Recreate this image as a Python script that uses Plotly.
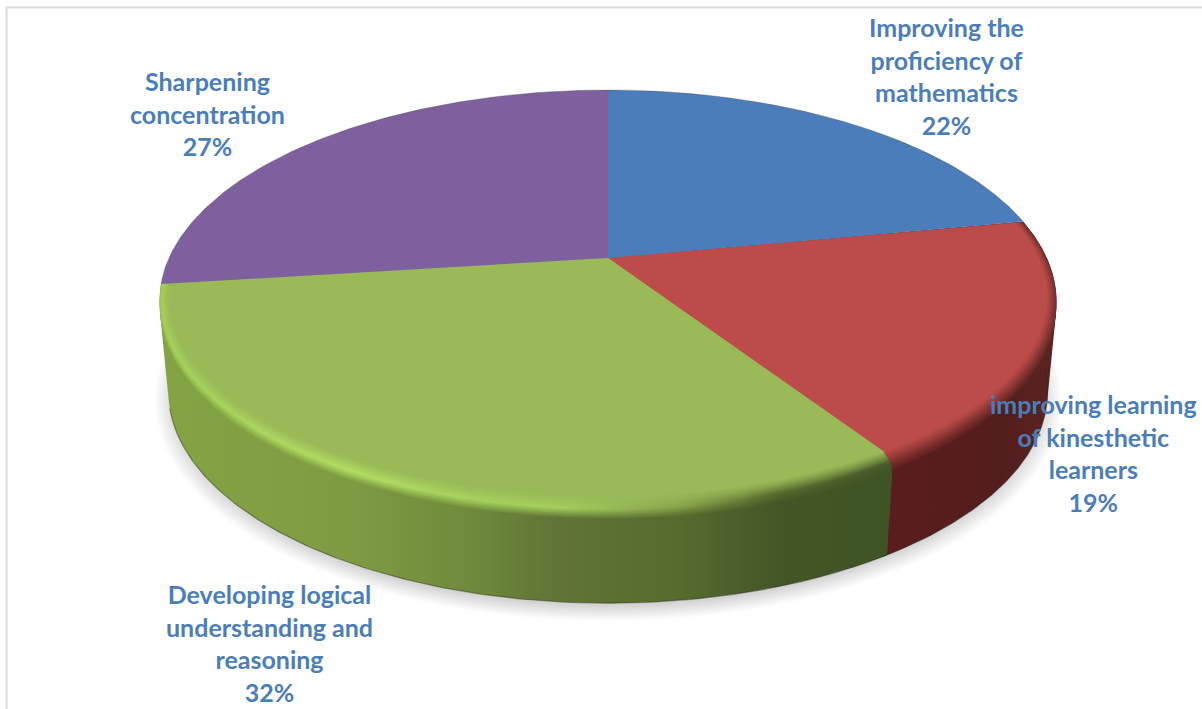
import numpy as np
import plotly.graph_objects as go

# Survey shares, clockwise from twelve o'clock
CATEGORIES = [
    "Improving the<br>proficiency of<br>mathematics",
    "improving learning<br>of kinesthetic<br>learners",
    "Developing logical<br>understanding and<br>reasoning",
    "Sharpening<br>concentration",
]
VALUES = [22, 19, 32, 27]

TOP_COLORS = ["#4b7dba", "#bc4c49", "#99ba57", "#7f609e"]
LABEL_COLOR = "#4a7ebb"
LABEL_ANCHORS = [(946, 76), (1093, 453), (269, 643), (207, 113)]

# Perspective model of the tilted disc, in pixels
CX, CY = 608.0, 258.0
RX, RY = 439.0, 202.6
PERSP = 0.206
DEPTH = 90.0
TAPER = 0.02
XMIN, XMAX = 155.0, 1060.0


def project(theta, sx=1.0, sy=1.0, drop=0.0):
    """Map disc angle (clockwise from the back) to screen pixels."""
    X = np.sin(theta) * sx
    Y = np.cos(theta) * sy
    s = 1.0 / (1.0 + PERSP * Y)
    return (CX + RX * X * s * (1 - TAPER * drop / DEPTH),
            CY - RY * Y * s + drop)


def hex_rgb(c):
    return np.array([int(c[i:i + 2], 16) for i in (1, 3, 5)], float)


def mix(a, b, t):
    a, b = hex_rgb(a), hex_rgb(b)
    v = a + (b - a) * t
    return "#%02x%02x%02x" % tuple(int(round(p)) for p in v)


def gradient(xs, colors):
    # Colorscales must span 0..1, so the end colours are held out to the range limits
    scale = [[0.0, colors[0]]]
    scale += [[(x - XMIN) / (XMAX - XMIN), c] for x, c in zip(xs, colors)]
    scale += [[1.0, colors[-1]]]
    return dict(type="horizontal", colorscale=scale, start=XMIN, stop=XMAX)


def polygon(x, y, fillgrad=None, fillcolor=None):
    kw = dict(fillgradient=fillgrad) if fillgrad else dict(fillcolor=fillcolor)
    return go.Scatter(x=list(x), y=list(y), mode="lines", fill="toself",
                      line=dict(width=0), hoverinfo="skip", showlegend=False, **kw)


def wedge(t0, t1, sx=1.0, sy=1.0, drop=0.0):
    th = np.linspace(t0, t1, 160)
    ax, ay = project(th, sx, sy, drop)
    return np.r_[CX, ax, CX], np.r_[CY, ay, CY]


def convex_hull(x, y):
    pts = sorted(set(zip(x.tolist(), y.tolist())))

    def half(points):
        out = []
        for p in points:
            while len(out) >= 2 and ((out[-1][0] - out[-2][0]) * (p[1] - out[-2][1])
                                     - (out[-1][1] - out[-2][1]) * (p[0] - out[-2][0])) <= 0:
                out.pop()
            out.append(p)
        return out[:-1]

    ring = half(pts) + half(pts[::-1])
    ring.append(ring[0])
    return [p[0] for p in ring], [p[1] for p in ring]


fractions = np.cumsum([0] + VALUES) / sum(VALUES)
angles = 2 * np.pi * fractions

fig = go.Figure()

# Soft shadow cast under the disc
full = np.linspace(0, 2 * np.pi, 361)
for grow in np.linspace(1.036, 0.99, 11):
    sx, sy = project(full, grow * 0.995, grow, DEPTH + 6)
    fig.add_trace(polygon(sx, sy, fillcolor="rgba(0,0,0,0.017)"))

# Side walls of the slices that face the viewer; each is the hull swept from rim to base
WALL_STOPS = {
    1: ([893, 1000, 1055], ["#5a1c1c", "#521e1c", "#5a2422"]),
    2: ([160, 350, 470, 560, 680, 780, 895],
       ["#84a444", "#7f9b42", "#6f8a3c", "#5f7436", "#556c2e", "#435626", "#3e5424"]),
}
for i, (xs, cols) in WALL_STOPS.items():
    th = np.linspace(angles[i], angles[i + 1] + (0.01 if i == 1 else 0), 200)
    tx, ty = project(th)
    bx, by = project(th, drop=DEPTH)
    hx, hy = convex_hull(np.r_[tx, bx], np.r_[ty, by])
    fig.add_trace(polygon(hx, hy, gradient(xs, cols)))

# Dark lower edge of the wall, stopping where the base curves out of sight on the left
th = np.linspace(angles[1] + 0.3, angles[3] - 0.16, 300)
bx, by = project(th, drop=DEPTH)
fig.add_trace(go.Scatter(x=bx, y=by, mode="lines", hoverinfo="skip", showlegend=False,
                         line=dict(color="rgba(35,45,20,0.45)", width=1.2)))

# Front slices: nested wedges fade from the wall into the top face across the rounded edge.
# Outer steps of both slices go first so each inner step tidies up the shared radius.
HIGHLIGHT = {2: ["#a4cf5a", "#b2de64", "#a8d35e", "#a4ce5c", "#88a44b", "#55692c", "#46592a"]}
STEPS = 12
for k in range(STEPS, -1, -1):
    t = k / STEPS
    for i in (1, 2):
        xs, wall = WALL_STOPS[i]
        top = TOP_COLORS[i]
        peak = HIGHLIGHT.get(i, [mix(top, c, 0.6) for c in wall])
        if t > 0.6:
            cols = [mix(p, w, (t - 0.6) / 0.4) for p, w in zip(peak, wall)]
        else:
            cols = [mix(top, p, (t / 0.6) ** 1.3) for p in peak]
        # inner steps pull in from the rim, outer steps roll down onto the wall
        rim = max(0.0, 0.72 - t) / 0.72
        drop = max(0.0, t - 0.72) / 0.28 * 7.0
        x, y = wedge(angles[i], angles[i + 1], 1 - 0.02 * rim, 1 - 0.055 * rim, drop)
        fig.add_trace(polygon(x, y, gradient(xs, cols)))

# Back slices have a plain top face
for i in (0, 3):
    x, y = wedge(angles[i], angles[i + 1])
    fig.add_trace(polygon(x, y, fillcolor=TOP_COLORS[i]))

# Fine edge around the back of the disc
th = np.linspace(angles[3] + 0.02, angles[1] + 2 * np.pi, 240)
ex, ey = project(th)
fig.add_trace(go.Scatter(x=ex, y=ey, mode="lines", hoverinfo="skip", showlegend=False,
                         line=dict(color="rgba(70,70,70,0.35)", width=1)))

# Chart area border, top and left only
fig.add_shape(type="line", x0=6, x1=1202, y0=7.5, y1=7.5, line=dict(color="#dcdcdc", width=2))
fig.add_shape(type="line", x0=6.5, x1=6.5, y0=7, y1=709, line=dict(color="#dcdcdc", width=2))

for cat, val, (ax, ay) in zip(CATEGORIES, VALUES, LABEL_ANCHORS):
    fig.add_annotation(x=ax, y=ay, text=f"{cat}<br>{val}%", showarrow=False, align="center",
                       xanchor="center", yanchor="middle",
                       font=dict(family="Lato", size=25, color=LABEL_COLOR, weight="bold"))

fig.update_layout(
    width=1202, height=709, margin=dict(l=0, r=0, t=0, b=0),
    paper_bgcolor="white", plot_bgcolor="white", showlegend=False,
    xaxis=dict(range=[0, 1202], visible=False, fixedrange=True),
    yaxis=dict(range=[709, 0], visible=False, fixedrange=True),
)
fig.write_html("out.html", config={"displayModeBar": False})
